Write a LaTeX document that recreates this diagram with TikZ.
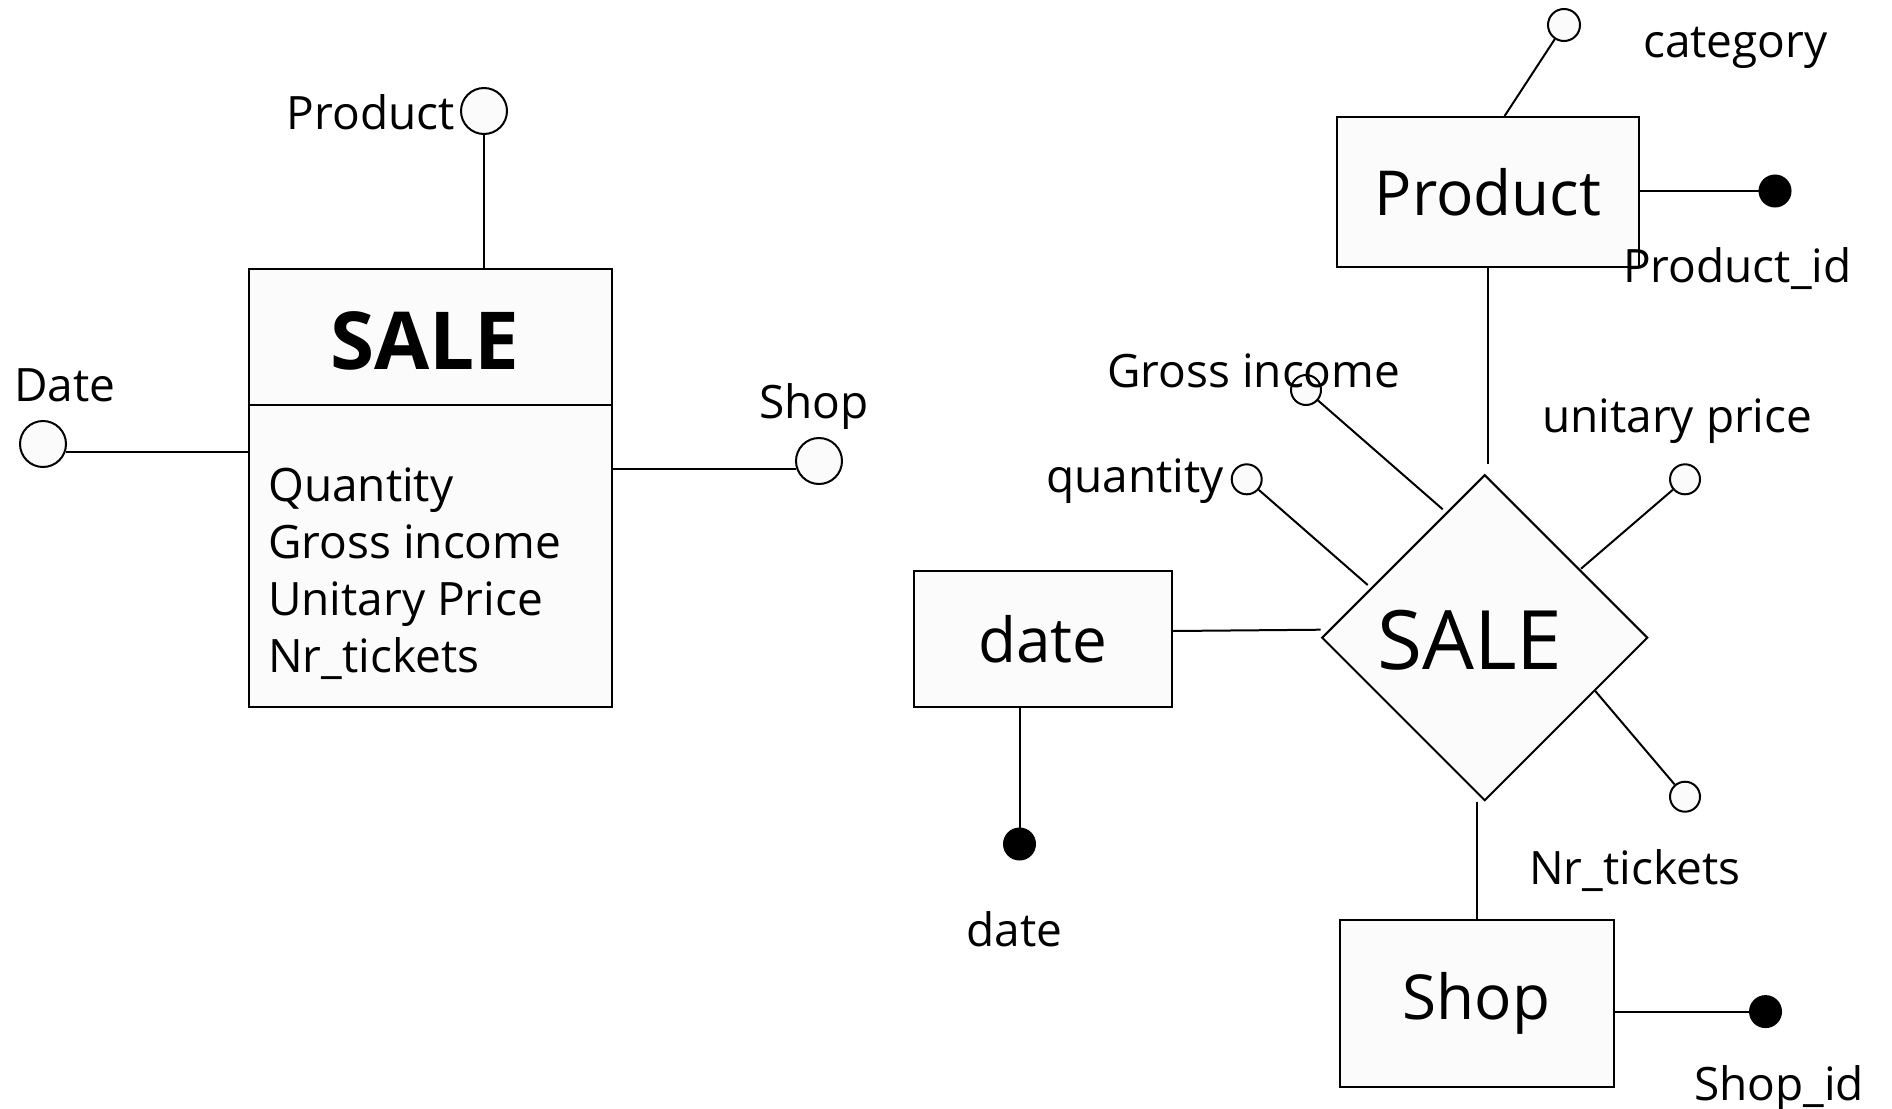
\documentclass[tikz,border=0pt]{standalone}
\usepackage{fontspec}
\setmainfont{Open Sans}
\usetikzlibrary{shapes.geometric,calc}
\definecolor{boxfill}{gray}{0.985}
\tikzset{
  ebox/.style={draw, line width=2pt, fill=boxfill, inner sep=0pt},
  ocirc/.style={circle, draw, line width=2pt, fill=boxfill, inner sep=0pt, minimum size=46pt},
  scirc/.style={circle, draw, line width=2pt, fill=boxfill, inner sep=0pt, minimum size=30pt},
  kcirc/.style={circle, draw, line width=2pt, fill=black, inner sep=0pt, minimum size=31pt},
  lbl/.style={font=\fontsize{46}{55}\selectfont, inner sep=0pt},
  bigtxt/.style={font=\fontsize{62}{74}\selectfont},
  conn/.style={line width=2pt}
}
\begin{document}
\begin{tikzpicture}[x=1pt,y=-1pt]
\useasboundingbox (0,0) rectangle (1892,1108);
\fill[white] (0,0) rectangle (1892,1108);

% ---------- left: SALE as entity box ----------
\node[ebox, minimum width=363pt, minimum height=438pt] (lsale) at (430.2,488) {};
\draw[conn] (lsale.west |- 0,405.4) -- (lsale.east |- 0,405.4);
\node[font=\bfseries\fontsize{80}{96}\selectfont] (lsalet) at (425,341) {SALE};
\node[lbl, anchor=base west] (la1) at (268,501) {Quantity};
\node[lbl, anchor=base west] (la2) at (268,558) {Gross income};
\node[lbl, anchor=base west] (la3) at (268,615) {Unitary Price};
\node[lbl, anchor=base west] (la4) at (268,672) {Nr\_tickets};

\node[ocirc] (lpc) at (484,111) {};
\draw[conn] (lpc) -- (lpc |- lsale.north);
\node[lbl, anchor=base east] (lpl) at (455,129) {Product};

\node[ocirc] (ldc) at (43,444) {};
\draw[conn] (ldc.-20) -- (ldc.-20 -| lsale.west);
\node[lbl, anchor=base west] (ldl) at (14,401) {Date};

\node[ocirc] (lsc) at (819,461) {};
\draw[conn] (lsc.200) -- (lsc.200 -| lsale.east);
\node[lbl, anchor=base west] (lsl) at (759,418) {Shop};

% ---------- right: ER diagram ----------
\node[ebox, bigtxt, minimum width=302pt, minimum height=150pt] (pb) at (1488,192) {Product};
\node[scirc, minimum size=32pt] (cc) at (1564,25) {};
\draw[conn] (cc) -- (pb.north -| 1504.6,0);
\node[lbl, anchor=base west] (ccl) at (1643,58) {category};
\node[kcirc] (pic) at (1775,191) {};
\draw[conn] (pb.east |- pic) -- (pic);
\node[lbl, anchor=base west] (picl) at (1623,282) {Product\_id};
\coordinate (pend) at (1488,464);
\draw[conn] (pb.south) -- (pend);

\node[diamond, draw, line width=2pt, fill=boxfill, inner sep=0pt,
      minimum width=326pt, minimum height=326pt] (dm) at (1484.7,637.7) {};
\node[font=\fontsize{82}{98}\selectfont] (dmt) at (1470,640) {SALE};

\node[ebox, bigtxt, minimum width=258pt, minimum height=136.5pt] (db) at (1042.8,639) {date};
\draw[conn] ([yshift=8pt]db.east) -- ([yshift=8pt]dm.west);
\node[kcirc] (dk) at (1019.5,844) {};
\draw[conn] (db.south -| dk) -- (dk);
\node[lbl, anchor=base] (dkl) at (1014.5,946) {date};

\node[ebox, bigtxt, minimum width=274pt, minimum height=167.5pt] (sb) at (1476.5,1003.5) {Shop};
\draw[conn] (sb.north |- dm.south) -- (sb.north);
\node[kcirc] (sic) at (1765.5,1011.6) {};
\draw[conn] (sb.east |- sic) -- (sic);
\node[lbl, anchor=base west] (sicl) at (1694,1100) {Shop\_id};

\node[scirc] (gc) at (1306,390) {};
\node[scirc] (qc) at (1246.7,479.3) {};
\node[scirc] (uc) at (1685,479.3) {};
\node[scirc] (nc) at (1685,796.7) {};
\coordinate (ge) at (1442.7,509.3);
\coordinate (qe) at (1367.7,585);
\coordinate (ue) at (1581,568.7);
\coordinate (ne) at (1595,690.7);
\draw[conn] (gc) -- (ge);
\draw[conn] (qc) -- (qe);
\draw[conn] (uc) -- (ue);
\draw[conn] (nc) -- (ne);
\node[lbl, anchor=base west] (gcl) at (1107,387) {Gross income};
\node[lbl, anchor=base west] (qcl) at (1046,492) {quantity};
\node[lbl, anchor=base west] (ucl) at (1542,432) {unitary price};
\node[lbl, anchor=base west] (ncl) at (1529,884) {Nr\_tickets};
\end{tikzpicture}
\end{document}
